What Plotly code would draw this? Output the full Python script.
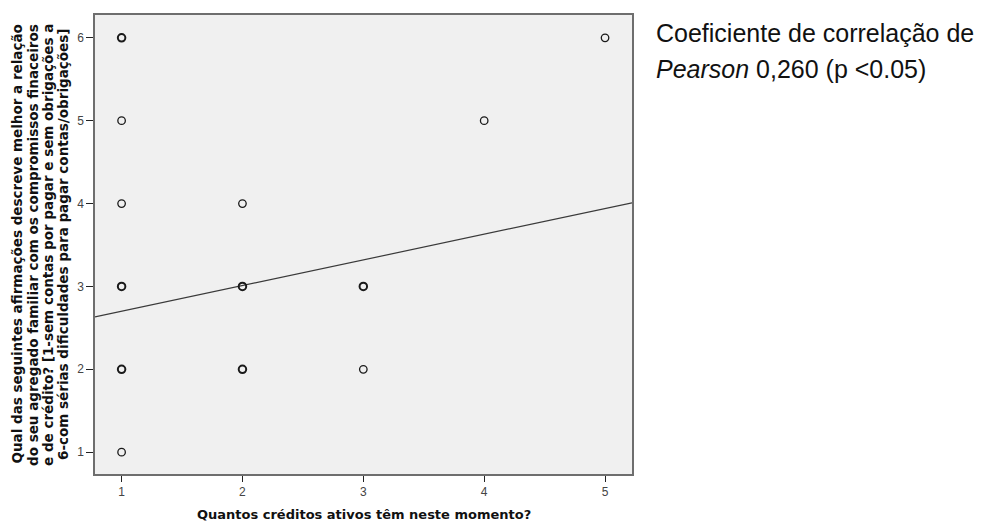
import plotly.graph_objects as go

# Data
creditos = [1, 1, 1, 1, 1, 1, 2, 2, 2, 3, 3, 4, 5]
relacao = [6, 5, 4, 3, 2, 1, 4, 3, 2, 3, 2, 5, 6]
casos = [2, 1, 1, 3, 3, 1, 1, 3, 2, 2, 1, 1, 1]  # overlapping cases (bolder rings)

fit_intercept = 2.39
fit_slope = 0.31
x_range = [0.78, 5.223]
y_range = [0.736, 6.276]

x_ticks = [1, 2, 3, 4, 5]
y_ticks = [1, 2, 3, 4, 5, 6]

x_title = "Quantos créditos ativos têm neste momento?"
y_title_lines = [
    "Qual das seguintes afirmações descreve melhor a relação",
    "do seu agregado familiar com os compromissos finaceiros",
    "e de crédito? [1-sem contas por pagar e sem obrigações a",
    "6-com sérias dificuldades para pagar contas/obrigações]",
]
y_title_x = [-0.1471, -0.1164, -0.0885, -0.0605]
note_line1 = "Coeficiente de correlação de"
note_line2 = "<i>Pearson</i> 0,260 (p <0.05)"

fig = go.Figure()

fit_x = x_range
fit_y = [fit_intercept + fit_slope * v for v in fit_x]
fig.add_trace(go.Scatter(
    x=fit_x, y=fit_y, mode="lines",
    line=dict(color="#3a3a3a", width=1.2),
    hoverinfo="skip", showlegend=False,
))

fig.add_trace(go.Scatter(
    x=creditos, y=relacao, mode="markers",
    marker=dict(
        symbol="circle", size=7.5, color="rgba(0,0,0,0)",
        line=dict(color="#1a1a1a", width=[1.3 if c == 1 else 2.0 for c in casos]),
    ),
    showlegend=False,
))

# page has an 8px body margin, so the figure is laid out 8px up/left
fig.update_layout(
    width=998, height=522,
    margin=dict(l=87, r=374, t=5, b=56),
    paper_bgcolor="white",
    plot_bgcolor="#F0F0F0",
    font=dict(family="Liberation Sans, Arial, sans-serif", color="#333333"),
)

fig.update_xaxes(
    range=x_range, tickvals=x_ticks, ticktext=[str(v) for v in x_ticks],
    showgrid=False, zeroline=False,
    showline=True, mirror=True, linecolor="#6e6e6e", linewidth=1.5,
    ticks="outside", ticklen=6, tickcolor="#222222", tickwidth=1.2,
    tickfont=dict(size=12, color="#444444"),
)
fig.update_yaxes(
    range=y_range, tickvals=y_ticks, ticktext=[str(v) for v in y_ticks],
    showgrid=False, zeroline=False,
    showline=True, mirror=True, linecolor="#6e6e6e", linewidth=1.5,
    ticks="outside", ticklen=7, tickcolor="#222222", tickwidth=1.2,
    tickfont=dict(size=12, color="#444444"),
)

for line, xp in zip(y_title_lines, y_title_x):
    fig.add_annotation(
        text=line, textangle=-90,
        xref="paper", yref="paper", x=xp, y=0.5,
        xanchor="center", yanchor="middle", showarrow=False, align="center",
        font=dict(family="DejaVu Sans, sans-serif", size=13.5, color="#111111", weight="bold"),
    )
fig.add_annotation(
    text=x_title,
    xref="paper", yref="paper", x=0.5, y=-0.0889,
    xanchor="center", yanchor="middle", showarrow=False,
    font=dict(family="DejaVu Sans, sans-serif", size=13, color="#111111", weight="bold"),
)
fig.add_annotation(
    text=note_line1, xref="paper", yref="paper", x=1.041, y=0.961,
    xanchor="left", yanchor="middle", showarrow=False, align="left",
    font=dict(family="Liberation Sans, Arial, sans-serif", size=25, color="#111111"),
)
fig.add_annotation(
    text=note_line2, xref="paper", yref="paper", x=1.041, y=0.883,
    xanchor="left", yanchor="middle", showarrow=False, align="left",
    font=dict(family="Liberation Sans, Arial, sans-serif", size=25, color="#111111"),
)

fig.write_html("out.html")
